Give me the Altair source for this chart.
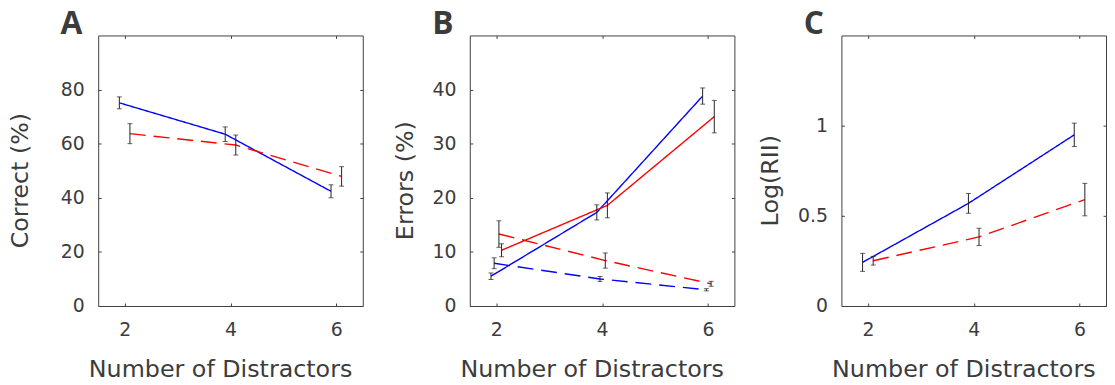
import altair as alt
import pandas as pd

# ---------------- data ----------------
# Panel A : Correct (%)
a_blue_x = [1.9, 3.9, 5.9]
a_blue_y = [75.1, 63.5, 42.4]
a_blue_err = [2.2, 2.7, 2.4]
a_red_x = [2.1, 4.1, 6.1]
a_red_y = [63.7, 59.5, 47.9]
a_red_err = [3.7, 3.7, 3.6]

# Panel B : Errors (%)
b_blue_solid_x = [1.9, 3.9, 5.9]
b_blue_solid_y = [5.5, 17.3, 38.8]
b_blue_solid_err = [0.6, 1.4, 1.5]
b_blue_dash_x = [1.96, 3.96, 5.97]
b_blue_dash_y = [7.9, 5.0, 3.0]
b_blue_dash_err = [1.0, 0.45, 0.2]
b_red_dash_x = [2.05, 4.06, 6.06]
b_red_dash_y = [13.3, 8.4, 4.1]
b_red_dash_err = [2.45, 1.4, 0.45]
b_red_solid_x = [2.1, 4.1, 6.12]
b_red_solid_y = [10.3, 18.6, 35.0]
b_red_solid_err = [1.2, 2.3, 3.0]

# Panel C : Log(RII)
c_blue_x = [1.9, 3.9, 5.9]
c_blue_y = [0.242, 0.569, 0.949]
c_blue_err = [0.05, 0.055, 0.065]
c_red_x = [2.1, 4.1, 6.1]
c_red_y = [0.251, 0.383, 0.59]
c_red_err = [0.024, 0.048, 0.09]

x_ticks = [2, 4, 6]
x_title = "Number of Distractors"
panel_letters = ["A", "B", "C"]
y_titles = ["Correct (%)", "Errors (%)", "Log(RII)"]
y_domains = [[0, 100], [0, 50], [0, 1.5]]
y_tick_values = [[0, 20, 40, 60, 80], [0, 10, 20, 30, 40], [0, 0.5, 1]]
y_formats = ["d", "d", ".1~f"]
y_title_x = [-81, -68, -74]

FONT = "DejaVu Sans"
LETTER_FONT = "Open Sans"
TXT = "#3c3c3c"


def series(xs, ys, errs, color, dash, name):
    return pd.DataFrame({
        "x": xs, "y": ys,
        "lo": [y - e for y, e in zip(ys, errs)],
        "hi": [y + e for y, e in zip(ys, errs)],
        "color": color, "dash": dash, "series": name,
    })


df_a = pd.concat([
    series(a_blue_x, a_blue_y, a_blue_err, "blue", "solid", "a1"),
    series(a_red_x, a_red_y, a_red_err, "red", "dashed", "a2"),
])
df_b = pd.concat([
    series(b_blue_solid_x, b_blue_solid_y, b_blue_solid_err, "blue", "solid", "b1"),
    series(b_blue_dash_x, b_blue_dash_y, b_blue_dash_err, "blue", "dashed", "b2"),
    series(b_red_dash_x, b_red_dash_y, b_red_dash_err, "red", "dashed", "b3"),
    series(b_red_solid_x, b_red_solid_y, b_red_solid_err, "red", "solid", "b4"),
])
df_c = pd.concat([
    series(c_blue_x, c_blue_y, c_blue_err, "blue", "solid", "c1"),
    series(c_red_x, c_red_y, c_red_err, "red", "dashed", "c2"),
])


def panel(df, i):
    xs = alt.Scale(domain=[1.5, 6.5], nice=False, zero=False)
    ys = alt.Scale(domain=y_domains[i], nice=False, zero=False)
    x_axis = alt.Axis(values=x_ticks, format="d", title=x_title,
                      titleX=123, titleY=74, titleBaseline="alphabetic",
                      labelPadding=15)
    y_axis = alt.Axis(values=y_tick_values[i], format=y_formats[i], title=y_titles[i],
                      titleX=y_title_x[i], titleY=146, titleBaseline="middle",
                      titleAngle=270, labelPadding=14)
    base = alt.Chart(df)
    lines = base.mark_line(strokeWidth=1.4).encode(
        x=alt.X("x:Q", scale=xs, axis=x_axis),
        y=alt.Y("y:Q", scale=ys, axis=y_axis),
        color=alt.Color("color:N", scale=alt.Scale(domain=["blue", "red"],
                        range=["#0000ff", "#ff0000"]), legend=None),
        strokeDash=alt.StrokeDash("dash:N", scale=alt.Scale(domain=["solid", "dashed"],
                                  range=[[1, 0], [16, 8]]), legend=None),
        detail="series:N",
    )
    bars = base.mark_rule(color="#222222", strokeWidth=1).encode(
        x=alt.X("x:Q", scale=xs, axis=None),
        y=alt.Y("lo:Q", scale=ys, axis=None),
        y2="hi:Q",
    )
    caps = base.transform_fold(["lo", "hi"], as_=["end", "v"]).mark_tick(
        orient="horizontal", size=5, thickness=1, color="#222222"
    ).encode(
        x=alt.X("x:Q", scale=xs, axis=None),
        y=alt.Y("v:Q", scale=ys, axis=None),
    )
    mirror = base.mark_point(opacity=0).encode(
        x=alt.X("x:Q", scale=xs, axis=alt.Axis(orient="top", values=x_ticks,
                labels=False, title=None, minExtent=0, maxExtent=0)),
        y=alt.Y("y:Q", scale=ys, axis=alt.Axis(orient="right", values=y_tick_values[i],
                labels=False, title=None, minExtent=0, maxExtent=0)),
    )
    letter = alt.Chart(pd.DataFrame({"letter": [panel_letters[i]]})).mark_text(
        align="left", baseline="alphabetic", fontSize=32, fontWeight="bold",
        font=LETTER_FONT, color=TXT
    ).encode(x=alt.value(-38), y=alt.value(-1), text="letter:N")
    return alt.layer(lines, bars, caps, mirror, letter).resolve_axis(
        x="independent", y="independent"
    ).properties(width=267, height=273)


chart = alt.hconcat(panel(df_a, 0), panel(df_b, 1), panel(df_c, 2),
                    spacing=108, bounds="flush").properties(
    padding={"left": 0, "top": -2, "right": 0, "bottom": 0}
).configure_view(
    stroke="#404040", strokeWidth=1
).configure_axis(
    grid=False, domain=False, offset=-3, tickSize=3, tickColor="#404040",
    labelFont=FONT, labelFontSize=19, labelColor=TXT,
    titleFont=FONT, titleFontSize=24, titleFontWeight="normal", titleColor=TXT,
)

chart.save("out.html", embed_options={"renderer": "svg", "actions": False})
